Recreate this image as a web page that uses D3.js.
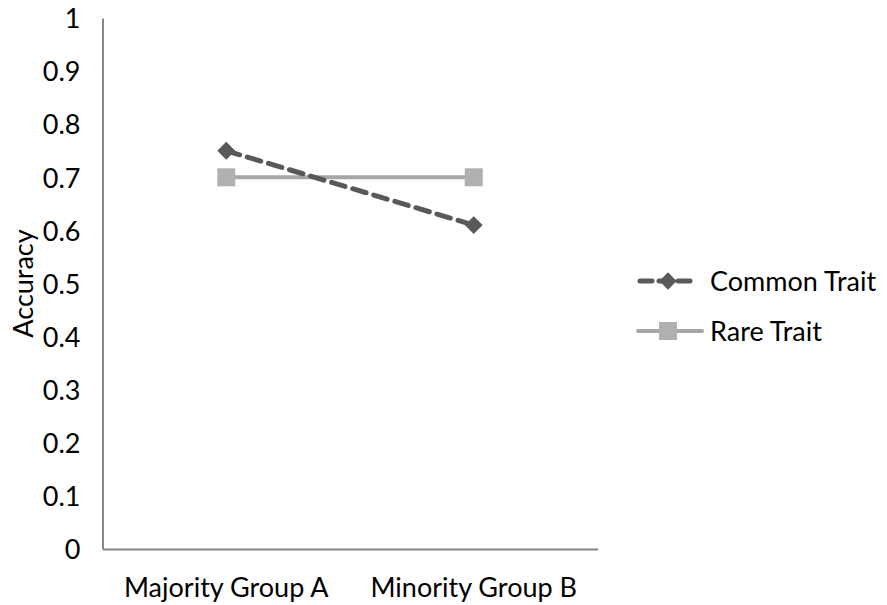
<!DOCTYPE html>
<html><head><meta charset="utf-8">
<script src="https://cdn.jsdelivr.net/npm/d3@7"></script>
<style>body{margin:0;background:#fff}text{font-family:Lato,sans-serif;fill:#000}</style>
</head><body><svg id="c" width="887" height="605"></svg>
<script>
const categories = ["Majority Group A", "Minority Group B"];
const commonTrait = [0.75, 0.61];
const rareTrait = [0.70, 0.70];
const yTicks = [0, 0.1, 0.2, 0.3, 0.4, 0.5, 0.6, 0.7, 0.8, 0.9, 1];
const yTickLabels = ["0", "0.1", "0.2", "0.3", "0.4", "0.5", "0.6", "0.7", "0.8", "0.9", "1"];
const seriesNames = ["Common Trait", "Rare Trait"];

const FS = "27px", FF = "Lato, sans-serif";
const svg = d3.select("#c");
const mLeft = 102.5, mRight = 597.5, mTop = 18, mBottom = 549;
const x = d3.scaleBand().domain(categories).range([mLeft, mRight]);
const y = d3.scaleLinear().domain([0, 1]).range([mBottom, mTop]);
const axisColor = "#868686";

// y axis
const ya = svg.append("g").attr("transform", `translate(${mLeft},0)`)
  .call(d3.axisLeft(y).tickValues(yTicks).tickFormat((d, i) => yTickLabels[i]).tickSize(0).tickPadding(22));
ya.select(".domain").attr("stroke", axisColor).attr("stroke-width", 2);
ya.selectAll("text").style("font-size", FS).style("font-family", FF).attr("fill", "#000").attr("dy", "0.36em");

// x axis
const xa = svg.append("g").attr("transform", `translate(0,${mBottom})`)
  .call(d3.axisBottom(x).tickSize(0));
xa.select(".domain").attr("stroke", axisColor).attr("stroke-width", 2);
xa.selectAll("text").style("font-size", FS).style("font-family", FF).attr("fill", "#000")
  .attr("y", 48).attr("dy", 0);

// y label
svg.append("text").attr("transform", `translate(33,${(mTop + mBottom) / 2}) rotate(-90)`)
  .attr("text-anchor", "middle").style("font-size", FS).text("Accuracy");

const cx = d => x(d) + x.bandwidth() / 2;
const line = d3.line().x(d => cx(d.c)).y(d => y(d.v));
const rareData = categories.map((c, i) => ({ c, v: rareTrait[i] }));
const commonData = categories.map((c, i) => ({ c, v: commonTrait[i] }));

const rareColor = "#a6a6a6", commonColor = "#595959";
svg.append("path").datum(rareData).attr("d", line).attr("fill", "none")
  .attr("stroke", rareColor).attr("stroke-width", 4);
svg.selectAll(".sq").data(rareData).join("rect")
  .attr("x", d => cx(d.c) - 9).attr("y", d => y(d.v) - 9).attr("width", 18).attr("height", 18).attr("fill", "#b0b0b0");

svg.append("path").datum(commonData).attr("d", line).attr("fill", "none")
  .attr("stroke", commonColor).attr("stroke-width", 5).attr("stroke-dasharray", "14,8").attr("stroke-linecap", "round");
svg.selectAll(".dm").data(commonData).join("path")
  .attr("d", d3.symbol().type(d3.symbolSquare).size(160))
  .attr("transform", d => `translate(${cx(d.c)},${y(d.v)}) rotate(45)`).attr("fill", commonColor);

// legend
const lg = svg.append("g");
const ly1 = 281, ly2 = 331;
lg.append("line").attr("x1", 640).attr("x2", 694).attr("y1", ly1).attr("y2", ly1)
  .attr("stroke", commonColor).attr("stroke-width", 5).attr("stroke-dasharray", "12,7").attr("stroke-linecap", "round");
lg.append("path").attr("d", d3.symbol().type(d3.symbolSquare).size(150))
  .attr("transform", `translate(668,${ly1}) rotate(45)`).attr("fill", commonColor);
lg.append("text").attr("x", 710).attr("y", ly1).attr("dy", "0.36em").style("font-size", FS).text(seriesNames[0]);
lg.append("line").attr("x1", 638).attr("x2", 702).attr("y1", ly2).attr("y2", ly2)
  .attr("stroke", rareColor).attr("stroke-width", 4).attr("stroke-linecap", "round");
lg.append("rect").attr("x", 659).attr("y", ly2 - 9).attr("width", 18).attr("height", 18).attr("fill", "#b0b0b0");
lg.append("text").attr("x", 710).attr("y", ly2).attr("dy", "0.36em").style("font-size", FS).text(seriesNames[1]);
</script></body></html>
